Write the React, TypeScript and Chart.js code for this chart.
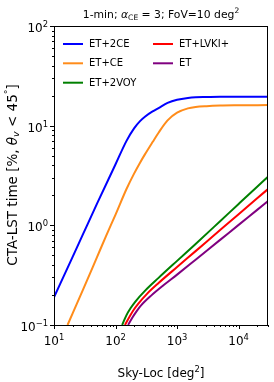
import React, { useEffect, useRef } from "react";
import { Chart, registerables } from "chart.js";
Chart.register(...registerables);

const seriesLabels = ["ET+2CE", "ET+CE", "ET+2VOY", "ET+LVKI+", "ET"];
const seriesColors = ["#0000ff", "#ff8c1a", "#008000", "#ff0000", "#800080"];

const skyBlue = [10, 20, 30, 50, 100, 150, 200, 250, 300, 400, 500, 700, 1000, 1500, 2000, 3000, 5000, 10000, 30000];
const timeBlue = [0.19, 0.48, 0.83, 1.65, 4.1, 7.0, 9.4, 11.1, 12.3, 13.9, 15.0, 16.9, 18.2, 19.0, 19.3, 19.4, 19.5, 19.5, 19.5];

const skyOrange = [16.6, 20, 30, 50, 70, 100, 150, 200, 250, 300, 400, 500, 700, 1000, 1500, 2000, 3000, 5000, 10000, 30000];
const timeOrange = [0.1, 0.13, 0.23, 0.48, 0.78, 1.28, 2.3, 3.3, 4.25, 5.15, 6.85, 8.5, 11.3, 13.5, 14.9, 15.4, 15.7, 15.9, 16.0, 16.1];

const skyGreen = [128, 150, 175, 210, 300, 500, 1000, 2000, 5000, 10000, 20000, 30000];
const timeGreen = [0.1, 0.125, 0.147, 0.172, 0.22, 0.297, 0.44, 0.65, 1.1, 1.64, 2.44, 3.07];

const skyRed = [142, 166, 194, 233, 333, 500, 1000, 2000, 5000, 10000, 20000, 30000];
const timeRed = [0.1, 0.119, 0.14, 0.163, 0.209, 0.264, 0.382, 0.551, 0.896, 1.29, 1.87, 2.31];

const skyPurple = [160, 187, 219, 262, 375, 600, 1000, 2000, 5000, 10000, 20000, 30000];
const timePurple = [0.1, 0.118, 0.137, 0.158, 0.196, 0.25, 0.32, 0.452, 0.715, 1.01, 1.43, 1.75];

const xDecades = [10, 100, 1000, 10000];
const xDecadeExp = ["1", "2", "3", "4"];
const yDecades = [0.1, 1, 10, 100];
const yDecadeExp = ["\u22121", "0", "1", "2"];

const FONT = "'DejaVu Sans', sans-serif";

type Part = { t: string; s?: "sub" | "sup"; i?: boolean };

function partFont(p: Part, size: number) {
  const sz = p.s ? size * 0.7 : size;
  return `${p.i ? "italic " : ""}${sz}px ${FONT}`;
}

function measureParts(ctx: CanvasRenderingContext2D, parts: Part[], size: number) {
  let w = 0;
  for (const p of parts) {
    ctx.font = partFont(p, size);
    w += ctx.measureText(p.t).width;
  }
  return w;
}

function drawParts(ctx: CanvasRenderingContext2D, parts: Part[], x: number, y: number, size: number, align: "left" | "center" | "right") {
  const w = measureParts(ctx, parts, size);
  let cx = align === "left" ? x : align === "center" ? x - w / 2 : x - w;
  ctx.textAlign = "left";
  ctx.textBaseline = "alphabetic";
  for (const p of parts) {
    ctx.font = partFont(p, size);
    let dy = 0;
    if (p.s === "sub") dy = size * 0.22;
    if (p.s === "sup") dy = -size * 0.42;
    ctx.fillText(p.t, cx, y + dy);
    cx += ctx.measureText(p.t).width;
  }
}

const decorPlugin = {
  id: "decor",
  afterDraw(chart: any) {
    const ctx: CanvasRenderingContext2D = chart.ctx;
    const { left, right, top, bottom } = chart.chartArea;
    const xs = chart.scales.x;
    const ys = chart.scales.y;
    ctx.save();
    ctx.fillStyle = "#000";
    ctx.strokeStyle = "#000";
    ctx.lineWidth = 1;
    ctx.strokeRect(Math.round(left) + 0.5, Math.round(top) + 0.5, Math.round(right - left) - 1, Math.round(bottom - top));

    ctx.beginPath();
    for (let d = 1; d <= 10000; d *= 10) {
      for (let k = 1; k <= 9; k++) {
        const v = d * k;
        if (v < 10 || v > 30000) continue;
        const px = Math.round(xs.getPixelForValue(v)) + 0.5;
        const len = k === 1 ? 4 : 2;
        ctx.moveTo(px, bottom);
        ctx.lineTo(px, bottom + len);
      }
    }
    for (let d = 0.1; d <= 100; d *= 10) {
      for (let k = 1; k <= 9; k++) {
        const v = d * k;
        if (v < 0.0999 || v > 100.01) continue;
        const py = Math.round(ys.getPixelForValue(v)) + 0.5;
        const len = k === 1 ? 4 : 2;
        ctx.moveTo(left, py);
        ctx.lineTo(left - len, py);
      }
    }
    ctx.stroke();

    const tickSize = 12;
    xDecades.forEach((v, i) => {
      const px = xs.getPixelForValue(v);
      drawParts(ctx, [{ t: "10" }, { t: xDecadeExp[i], s: "sup" }], px, bottom + 20, tickSize, "center");
    });
    yDecades.forEach((v, i) => {
      const py = ys.getPixelForValue(v);
      drawParts(ctx, [{ t: "10" }, { t: yDecadeExp[i], s: "sup" }], left - 6, py + 6, tickSize, "right");
    });

    drawParts(ctx, [{ t: "Sky-Loc [deg" }, { t: "2", s: "sup" }, { t: "]" }], (left + right) / 2, 377, 12, "center");
    ctx.save();
    ctx.translate(16.5, 175);
    ctx.rotate(-Math.PI / 2);
    drawParts(
      ctx,
      [{ t: "CTA-LST time [%, " }, { t: "θ", i: true }, { t: "v", s: "sub", i: true }, { t: " < 45" }, { t: "°", s: "sup" }, { t: "]" }],
      0, 0, 13.5, "center"
    );
    ctx.restore();

    drawParts(
      ctx,
      [{ t: "1-min; " }, { t: "α", i: true }, { t: "CE", s: "sub" }, { t: " = 3; FoV=10 deg" }, { t: "2", s: "sup" }],
      (left + right) / 2, 18, 10.8, "center"
    );

    const rows = [44, 63.3, 82.7];
    const slots = [
      { col: 0, row: 0 },
      { col: 0, row: 1 },
      { col: 0, row: 2 },
      { col: 1, row: 0 },
      { col: 1, row: 1 },
    ];
    const colX = [63, 153];
    chart.data.datasets.forEach((ds: any, i: number) => {
      const s = slots[i];
      const x0 = colX[s.col];
      const y0 = rows[s.row];
      ctx.strokeStyle = ds.borderColor;
      ctx.lineWidth = 2;
      ctx.beginPath();
      ctx.moveTo(x0, y0);
      ctx.lineTo(x0 + 20, y0);
      ctx.stroke();
      ctx.fillStyle = "#000";
      ctx.font = `10px ${FONT}`;
      ctx.textAlign = "left";
      ctx.textBaseline = "middle";
      ctx.fillText(ds.label, x0 + 26, y0 + 0.5);
    });
    ctx.restore();
  },
};

function pts(xs: number[], ys: number[]) {
  return xs.map((x, i) => ({ x, y: ys[i] }));
}

export default function App() {
  const ref = useRef<HTMLCanvasElement>(null);
  useEffect(() => {
    document.body.style.margin = "0";
    const xsArr = [skyBlue, skyOrange, skyGreen, skyRed, skyPurple];
    const ysArr = [timeBlue, timeOrange, timeGreen, timeRed, timePurple];
    const chart = new Chart(ref.current!, {
      type: "line",
      data: {
        datasets: seriesLabels.map((label, i) => ({
          label,
          data: pts(xsArr[i], ysArr[i]),
          borderColor: seriesColors[i],
          backgroundColor: seriesColors[i],
          borderWidth: 2,
          pointRadius: 0,
          cubicInterpolationMode: "monotone" as const,
          fill: false,
        })),
      },
      options: {
        animation: false,
        responsive: false,
        devicePixelRatio: 1,
        layout: { padding: { left: 54, top: 26, right: 6, bottom: 57 } },
        plugins: { legend: { display: false }, title: { display: false }, tooltip: { enabled: false } },
        scales: {
          x: { type: "logarithmic", min: 10, max: 30000, display: false },
          y: { type: "logarithmic", min: 0.1, max: 100, display: false },
        },
      },
      plugins: [decorPlugin],
    });
    return () => chart.destroy();
  }, []);
  return (
    <div style={{ width: 274, height: 382 }}>
      <canvas ref={ref} width={274} height={382} />
    </div>
  );
}
